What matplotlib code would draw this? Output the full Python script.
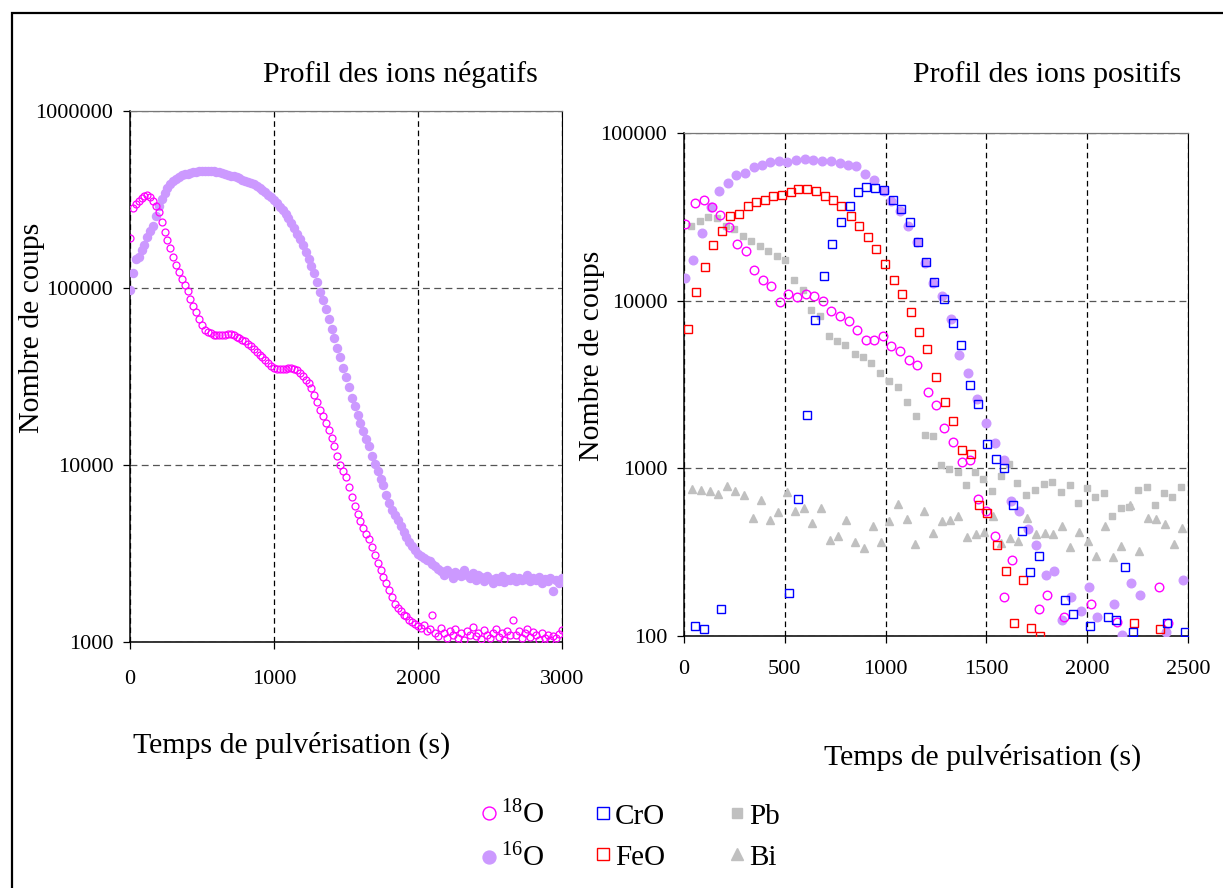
import matplotlib
matplotlib.use("Agg")
import matplotlib.pyplot as plt
from matplotlib.patches import Rectangle

plt.rcParams["font.family"] = "Liberation Serif"
plt.rcParams["mathtext.fontset"] = "custom"
plt.rcParams["mathtext.rm"] = "Liberation Serif"
plt.rcParams["mathtext.it"] = "Liberation Serif:italic"

# ---- ions négatifs (profil gauche) ----
t_neg = [0, 20, 40, 60, 80, 100, 120, 140, 160, 180, 200, 220, 240, 260, 280, 300,
         320, 340, 360, 380, 400, 420, 440, 460, 480, 500, 520, 540, 560, 580, 600,
         620, 640, 660, 680, 700, 720, 740, 760, 780, 800, 820, 840, 860, 880, 900,
         920, 940, 960, 980, 1000, 1020, 1040, 1060, 1080, 1100, 1120, 1140, 1160,
         1180, 1200, 1220, 1240, 1260, 1280, 1300, 1320, 1340, 1360, 1380, 1400,
         1420, 1440, 1460, 1480, 1500, 1520, 1540, 1560, 1580, 1600, 1620, 1640,
         1660, 1680, 1700, 1720, 1740, 1760, 1780, 1800, 1820, 1840, 1860, 1880,
         1900, 1920, 1940, 1960, 1980, 2000, 2020, 2040, 2060, 2080, 2100, 2120,
         2140, 2160, 2180, 2200, 2220, 2240, 2260, 2280, 2300, 2320, 2340, 2360,
         2380, 2400, 2420, 2440, 2460, 2480, 2500, 2520, 2540, 2560, 2580, 2600,
         2620, 2640, 2660, 2680, 2700, 2720, 2740, 2760, 2780, 2800, 2820, 2840,
         2860, 2880, 2900, 2920, 2940, 2960, 2980, 3000]

o18_neg = [192000, 282000, 298000, 310000, 322000, 332000, 336000, 328000, 312000,
           292000, 268000, 236000, 208000, 186000, 168000, 150000, 135000, 123000,
           113000, 104000, 96000, 87000, 79000, 73000, 67000, 62000, 58000, 56500,
           55500, 54500, 54000, 54500, 54000, 54500, 55000, 55000, 54000, 53000,
           52000, 51000, 50000, 48500, 47000, 45000, 43500, 42000, 40500, 39000,
           37500, 36300, 35500, 35000, 34700, 34800, 35000, 35300, 35500, 35000,
           34200, 33000, 31800, 30300, 29000, 27200, 24800, 22800, 20500, 18800,
           17300, 15800, 14300, 12800, 11300, 10000, 9300, 8500, 7500, 6600, 5900,
           5300, 4800, 4400, 4100, 3800, 3450, 3100, 2800, 2550, 2330, 2150, 1960,
           1800, 1650, 1560, 1490, 1420, 1400, 1340, 1300, 1260, 1230, 1200, 1250,
           1150, 1180, 1420, 1130, 1080, 1200, 1120, 1050, 1150, 1100, 1180, 1060,
           1120, 1030, 1150, 1090, 1210, 1080, 1120, 1040, 1170, 1100, 1060, 1130,
           1190, 1070, 1120, 1030, 1150, 1090, 1340, 1100, 1160, 1050, 1120, 1180,
           1070, 1140, 1090, 1030, 1120, 1060, 1100, 1020, 1080, 1050, 1110, 1170]

o16_neg = [98000, 122000, 145000, 150000, 163000, 175000, 195000, 210000, 225000,
           255000, 290000, 320000, 345000, 365000, 385000, 400000, 414000, 425000,
           433000, 438000, 442000, 445000, 450000, 453000, 456000, 458000, 460000,
           460000, 459000, 457000, 455000, 450000, 446000, 442000, 437000, 432000,
           427000, 423000, 417000, 410000, 403000, 397000, 392000, 386000, 378000,
           368000, 358000, 347000, 336000, 325000, 315000, 302000, 288000, 275000,
           262000, 248000, 234000, 218000, 203000, 188000, 174000, 159000, 146000,
           133000, 121000, 108000, 95000, 85000, 76000, 67000, 59000, 52000, 46000,
           40500, 35500, 31500, 27500, 24000, 21500, 19200, 17300, 15500, 14000,
           12800, 11300, 10100, 9200, 8300, 7700, 6800, 6100, 5600, 5200, 4900,
           4500, 4200, 3900, 3650, 3500, 3300, 3150, 3050, 3000, 2900, 2850, 2750,
           2700, 2600, 2520, 2400, 2550, 2450, 2300, 2500, 2420, 2350, 2550, 2380,
           2300, 2450, 2250, 2400, 2320, 2200, 2350, 2280, 2150, 2300, 2220, 2350,
           2180, 2280, 2250, 2320, 2200, 2300, 2230, 2280, 2380, 2200, 2300, 2250,
           2320, 2150, 2280, 2200, 2300, 1950, 2250, 2150, 2300]

# ---- ions positifs (profil droit) ----
t_o18 = [7, 53, 97, 138, 181, 222, 263, 306, 349, 392, 433, 477, 518, 559, 604, 645,
         689, 730, 773, 818, 859, 901, 944, 987, 1028, 1073, 1114, 1155, 1208, 1248,
         1291, 1334, 1377, 1420, 1458, 1500, 1543, 1587, 1628, 1760, 1803, 1885,
         2017, 2146, 2356, 2400]
o18_pos = [28600, 38300, 40000, 36200, 32400, 27500, 21900, 19900, 15200, 13300,
           12300, 9800, 11000, 10500, 10900, 10600, 10000, 8700, 8070, 7530, 6650,
           5850, 5850, 6180, 5390, 4990, 4450, 4150, 2840, 2390, 1740, 1440, 1090,
           1120, 655, 553, 393, 170, 285, 145, 175, 129, 155, 121, 195, 120]

t_o16 = [3, 44, 89, 135, 173, 217, 258, 303, 345, 387, 428, 472, 513, 558, 600, 642,
         683, 727, 772, 813, 855, 900, 944, 990, 1028, 1069, 1109, 1158, 1196, 1237,
         1282, 1323, 1365, 1409, 1455, 1497, 1543, 1587, 1620, 1661, 1704, 1747,
         1794, 1835, 1876, 1922, 1967, 2009, 2050, 2133, 2173, 2218, 2261, 2391, 2473]
o16_pos = [13600, 17600, 25400, 36000, 44900, 50400, 56400, 57700, 62700, 64700,
           66800, 67800, 66800, 68700, 70000, 69300, 68400, 67800, 66200, 64100,
           63800, 57100, 52700, 44900, 39100, 34100, 27800, 22300, 16800, 12700,
           10700, 7740, 4730, 3680, 2600, 1870, 1410, 1120, 640, 553, 437, 351, 232,
           243, 124, 171, 141, 196, 130, 156, 101, 206, 175, 106, 215]

t_cro = [56, 99, 184, 523, 566, 609, 650, 694, 735, 780, 822, 864, 905, 949, 990,
         1035, 1077, 1119, 1161, 1201, 1240, 1290, 1332, 1376, 1418, 1460, 1502,
         1546, 1587, 1632, 1675, 1716, 1761, 1889, 1931, 2016, 2102, 2143, 2186,
         2229, 2396, 2483]
cro = [115, 110, 145, 180, 652, 2080, 7700, 14000, 21900, 29300, 36900, 44500,
       47700, 47000, 45500, 40000, 35200, 29300, 22300, 16900, 13000, 10200, 7400,
       5420, 3150, 2420, 1400, 1140, 1010, 606, 421, 240, 301, 165, 136, 115, 130,
       125, 257, 106, 120, 106]

t_feo = [20, 61, 102, 146, 189, 230, 273, 316, 359, 401, 443, 484, 530, 567, 612,
         653, 697, 740, 781, 826, 869, 911, 952, 995, 1040, 1082, 1124, 1166, 1207,
         1250, 1295, 1336, 1378, 1422, 1464, 1505, 1551, 1596, 1637, 1680, 1723,
         1766, 2234, 2359]
feo = [6800, 11200, 15800, 21400, 25900, 31800, 32700, 36600, 38800, 40000, 42300,
       42800, 44500, 46600, 46600, 45300, 42300, 40000, 36600, 31800, 27700, 24000,
       20300, 16600, 13300, 11000, 8600, 6500, 5150, 3500, 2490, 1920, 1280, 1220,
       605, 545, 351, 245, 120, 215, 111, 100, 120, 110]

t_pb = [36, 77, 118, 163, 206, 247, 291, 332, 377, 418, 461, 502, 546, 589, 632,
        674, 719, 760, 801, 846, 887, 929, 971, 1015, 1061, 1106, 1149, 1193, 1233,
        1274, 1315, 1357, 1401, 1444, 1484, 1526, 1571, 1612, 1653, 1698, 1741,
        1785, 1827, 1868, 1913, 1956, 1998, 2038, 2082, 2124, 2167, 2206, 2252,
        2297, 2338, 2379, 2421, 2467]
pb = [28000, 29700, 31600, 31100, 27700, 26700, 24400, 22800, 21300, 19900, 18400,
      17400, 13300, 11600, 8840, 8070, 6180, 5720, 5460, 4810, 4600, 4250, 3700,
      3300, 3050, 2470, 2040, 1580, 1560, 1050, 986, 955, 796, 946, 864, 733, 904,
      1060, 815, 695, 743, 804, 826, 727, 796, 625, 768, 670, 709, 523, 578, 591,
      743, 778, 606, 710, 679, 778]

t_bi = [41, 86, 128, 169, 212, 255, 298, 341, 382, 426, 467, 510, 553, 595, 637,
        679, 722, 765, 806, 850, 893, 936, 977, 1018, 1061, 1104, 1147, 1190, 1234,
        1279, 1320, 1361, 1406, 1447, 1490, 1533, 1574, 1617, 1658, 1703, 1744,
        1789, 1832, 1873, 1917, 1959, 2002, 2045, 2087, 2127, 2170, 2214, 2259,
        2302, 2343, 2384, 2429, 2470]
bi = [750, 743, 736, 705, 785, 733, 689, 509, 643, 489, 546, 727, 558, 578, 475,
      578, 375, 393, 493, 363, 335, 450, 363, 486, 614, 500, 354, 553, 411, 482,
      493, 521, 387, 406, 417, 521, 358, 384, 370, 505, 406, 411, 406, 450, 338,
      417, 370, 301, 454, 294, 343, 606, 323, 509, 500, 465, 354, 441]

neg_yticks = [1000, 10000, 100000, 1000000]
neg_xticks = [0, 1000, 2000, 3000]
pos_yticks = [100, 1000, 10000, 100000]
pos_xticks = [0, 500, 1000, 1500, 2000, 2500]

MAG = "#FF00FF"
LAV = "#CC99FF"
GREY = "#C0C0C0"

fig = plt.figure(figsize=(12.23, 8.88), dpi=100)

# cadre extérieur
fig.patches.append(Rectangle((12 / 1223, -0.1), 1.2, 1 - 13 / 888 + 0.1, fill=False,
                             lw=1.6, ec="black", transform=fig.transFigure))


def style_axes(ax, xticks, yticks, xlim, ylim, xpad):
    ax.set_yscale("log")
    ax.set_xlim(*xlim)
    ax.set_ylim(*ylim)
    ax.set_xticks(xticks)
    ax.set_xticklabels([str(v) for v in xticks])
    ax.set_yticks(yticks)
    ax.set_yticklabels([str(v) for v in yticks])
    ax.minorticks_off()
    ax.tick_params(axis="both", labelsize=16, direction="out", length=5, width=0.9)
    ax.tick_params(axis="x", pad=xpad)
    ax.tick_params(axis="y", pad=7)
    ax.xaxis.grid(True, color="black", ls=(0, (4.5, 3)), lw=0.9)
    ax.yaxis.grid(True, color="#555555", ls=(0, (5.5, 3.5)), lw=0.9)
    ax.set_axisbelow(True)
    for s in ("left", "bottom"):
        ax.spines[s].set_linewidth(1.1)
    ax.spines["top"].set_color("#777777")
    ax.spines["top"].set_linewidth(0.9)
    ax.spines["right"].set_linewidth(0.8)


ax1 = fig.add_axes([130 / 1223, 1 - 642 / 888, 432 / 1223, 531 / 888])
ax1.plot(t_neg, o16_neg, "o", ms=5.8, color=LAV, mec=LAV, zorder=3)
ax1.plot(t_neg, o18_neg, "o", ms=5.0, mfc="none", mec=MAG, mew=0.9, zorder=4)
style_axes(ax1, neg_xticks, neg_yticks, (0, 3000), (1000, 1000000), 15)

ax2 = fig.add_axes([684 / 1223, 1 - 636 / 888, 504 / 1223, 503 / 888])
h_pb, = ax2.plot(t_pb, pb, "s", ms=4.8, color=GREY, mec=GREY, zorder=3)
h_bi, = ax2.plot(t_bi, bi, "^", ms=6.0, color=GREY, mec=GREY, zorder=3)
h16, = ax2.plot(t_o16, o16_pos, "o", ms=6.2, color=LAV, mec=LAV, zorder=3)
h18, = ax2.plot(t_o18, o18_pos, "o", ms=6.2, mfc="none", mec=MAG, mew=1.0, zorder=4)
h_fe, = ax2.plot(t_feo, feo, "s", ms=5.4, mfc="none", mec="#FF0000", mew=1.0, zorder=5)
h_cr, = ax2.plot(t_cro, cro, "s", ms=5.4, mfc="none", mec="#0000FF", mew=1.0, zorder=6)
style_axes(ax2, pos_xticks, pos_yticks, (0, 2500), (100, 100000), 12)

# titres et libellés
fig.text(400 / 1223, 1 - 75 / 888, "Profil des ions négatifs", fontsize=21.5,
         ha="center", va="center")
fig.text(1047 / 1223, 1 - 75 / 888, "Profil des ions positifs", fontsize=21.5,
         ha="center", va="center")
fig.text(32 / 1223, 1 - 328 / 888, "Nombre de coups", fontsize=21.5, rotation=90,
         ha="center", va="center")
fig.text(592 / 1223, 1 - 356 / 888, "Nombre de coups", fontsize=21.5, rotation=90,
         ha="center", va="center")
fig.text(292 / 1223, 1 - 745 / 888, "Temps de pulvérisation (s)", fontsize=21.5,
         ha="center", va="center")
fig.text(983 / 1223, 1 - 757 / 888, "Temps de pulvérisation (s)", fontsize=21.5,
         ha="center", va="center")

# légende en trois colonnes
leg_kw = dict(frameon=False, fontsize=21, handlelength=0.6, handletextpad=0.1,
              labelspacing=0.5, borderpad=0, loc="center left", markerscale=1.5)
fig.legend([h18, h16], [r"$^{18}$O", r"$^{16}$O"],
           bbox_to_anchor=(466 / 1223, 1 - 837 / 888), **leg_kw)
fig.legend([h_cr, h_fe], ["CrO", "FeO"],
           bbox_to_anchor=(580 / 1223, 1 - 837 / 888), **leg_kw)
fig.legend([h_pb, h_bi], ["Pb", "Bi"],
           bbox_to_anchor=(714 / 1223, 1 - 837 / 888), **leg_kw)

fig.savefig("out.png", dpi=100)
